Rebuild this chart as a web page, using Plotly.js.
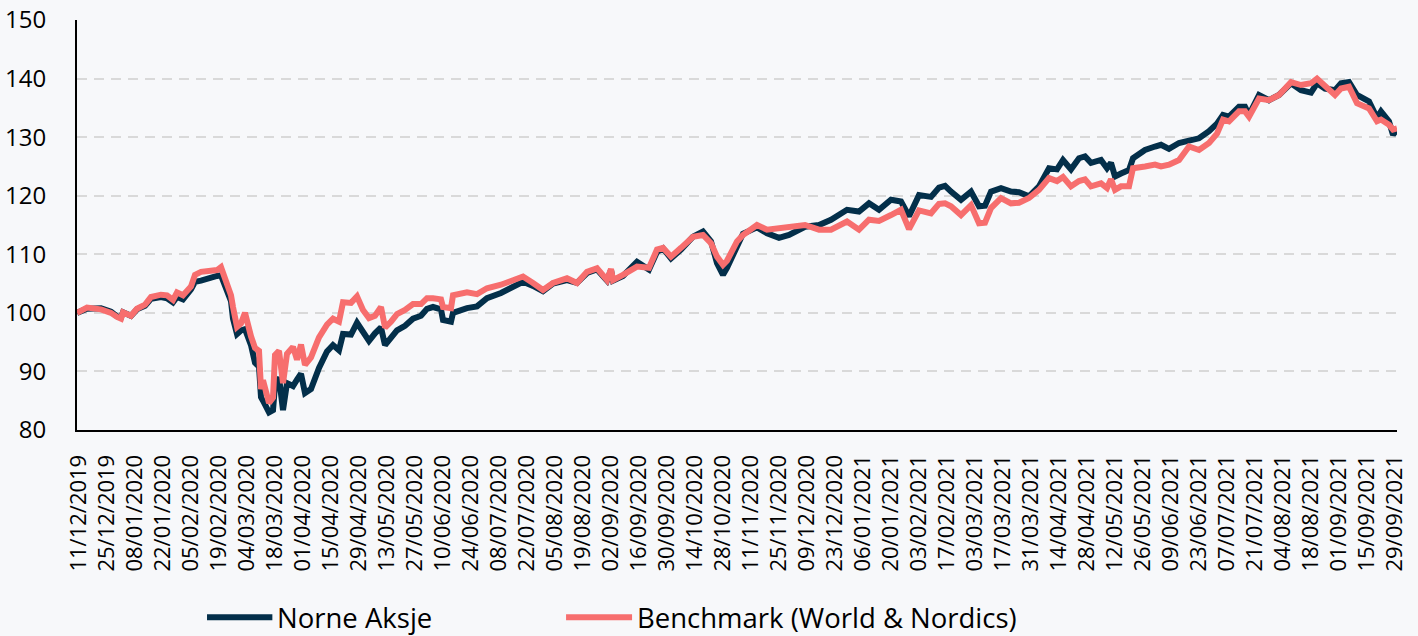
<!DOCTYPE html>
<html>
<head>
<meta charset="utf-8">
<script src="https://cdn.plot.ly/plotly-3.0.1.min.js"></script>
<style>
  html, body { margin: 0; padding: 0; background: #f7f8fa; }
  #chart { width: 1418px; height: 636px; }
</style>
</head>
<body>
<div id="chart"></div>
<script>
const dates = [
  '2019-12-10','2019-12-15','2019-12-22','2019-12-27','2019-12-30','2020-01-01','2020-01-02','2020-01-06','2020-01-09','2020-01-13',
  '2020-01-16','2020-01-21','2020-01-24','2020-01-27','2020-01-29','2020-02-01','2020-02-05','2020-02-07','2020-02-10','2020-02-15',
  '2020-02-18','2020-02-20','2020-02-25','2020-02-26','2020-02-28','2020-03-01','2020-03-03','2020-03-06','2020-03-08','2020-03-10',
  '2020-03-11','2020-03-12','2020-03-15','2020-03-17','2020-03-18','2020-03-20','2020-03-22','2020-03-24','2020-03-27','2020-03-29',
  '2020-03-31','2020-04-02','2020-04-05','2020-04-09','2020-04-13','2020-04-16','2020-04-19','2020-04-21','2020-04-25','2020-04-28',
  '2020-05-01','2020-05-04','2020-05-07','2020-05-10','2020-05-12','2020-05-15','2020-05-18','2020-05-22','2020-05-26','2020-05-30',
  '2020-06-02','2020-06-05','2020-06-09','2020-06-10','2020-06-14','2020-06-15','2020-06-22','2020-06-27','2020-07-02','2020-07-09',
  '2020-07-15','2020-07-20','2020-07-25','2020-07-30','2020-08-04','2020-08-11','2020-08-16','2020-08-21','2020-08-26','2020-08-31',
  '2020-09-02','2020-09-03','2020-09-08','2020-09-15','2020-09-21','2020-09-25','2020-09-28','2020-10-02','2020-10-07','2020-10-13',
  '2020-10-18','2020-10-22','2020-10-25','2020-10-28','2020-10-30','2020-11-04','2020-11-07','2020-11-14','2020-11-19','2020-11-25',
  '2020-11-30','2020-12-08','2020-12-15','2020-12-21','2020-12-29','2021-01-04','2021-01-09','2021-01-14','2021-01-20','2021-01-25',
  '2021-01-29','2021-02-03','2021-02-09','2021-02-13','2021-02-16','2021-02-19','2021-02-24','2021-03-01','2021-03-05','2021-03-08',
  '2021-03-11','2021-03-16','2021-03-21','2021-03-25','2021-03-30','2021-04-04','2021-04-09','2021-04-13','2021-04-16','2021-04-20',
  '2021-04-24','2021-04-27','2021-04-30','2021-05-05','2021-05-08','2021-05-10','2021-05-12','2021-05-15','2021-05-19','2021-05-21',
  '2021-05-27','2021-06-01','2021-06-04','2021-06-08','2021-06-13','2021-06-18','2021-06-23','2021-06-28','2021-07-02','2021-07-05',
  '2021-07-08','2021-07-13','2021-07-16','2021-07-18','2021-07-23','2021-07-28','2021-08-02','2021-08-08','2021-08-13','2021-08-18',
  '2021-08-21','2021-08-25','2021-08-30','2021-09-02','2021-09-06','2021-09-10','2021-09-16','2021-09-20','2021-09-22','2021-09-26',
  '2021-09-28','2021-09-30'
];

const norneAksje = [
  100.0,100.7,100.8,100.2,99.4,99.2,100.1,99.5,100.6,101.2,
  102.4,102.7,102.5,101.8,102.7,102.3,104.0,105.3,105.5,106.1,
  106.3,106.4,102.0,99.0,96.4,97.0,97.2,94.5,91.5,90.8,
  85.6,85.0,83.0,83.4,87.5,89.0,83.4,88.0,87.5,88.6,
  89.6,86.3,87.0,90.6,93.4,94.5,93.6,96.4,96.3,98.3,
  96.5,95.2,96.5,97.5,94.5,95.8,97.0,97.8,99.0,99.5,
  100.7,101.0,100.6,98.8,98.5,100.0,100.8,101.1,102.5,103.4,
  104.5,105.3,104.6,103.7,105.0,105.6,105.1,106.8,107.4,105.5,
  107.3,105.5,106.3,108.7,107.4,110.4,111.0,109.3,110.8,113.0,
  113.9,112.2,108.5,106.5,107.7,111.5,113.5,114.6,113.6,112.8,
  113.3,114.7,115.0,115.9,117.6,117.3,118.7,117.6,119.3,119.0,
  116.5,120.1,119.8,121.4,121.7,120.7,119.3,120.7,118.2,118.3,
  120.7,121.3,120.7,120.6,119.9,121.6,124.7,124.5,126.1,124.5,
  126.4,126.7,125.6,126.1,124.7,125.6,123.3,123.8,124.4,126.4,
  127.8,128.4,128.7,128.0,129.0,129.4,129.8,131.0,132.3,133.8,
  133.5,135.2,135.2,133.8,137.2,136.3,137.2,139.2,138.0,137.6,
  139.2,138.3,138.0,139.2,139.4,137.2,136.1,133.3,134.4,132.7,
  130.4,131.3
];

const benchmark = [
  100.0,100.9,100.6,100.0,99.3,99.0,100.1,99.5,100.7,101.4,
  102.7,103.1,103.0,102.2,103.5,103.0,104.5,106.5,107.0,107.2,
  107.3,107.8,103.0,101.0,97.6,98.2,100.0,96.0,94.0,93.5,
  87.0,88.5,84.6,85.5,92.8,93.5,88.0,93.0,94.2,92.0,
  94.6,91.1,92.4,95.8,98.0,99.0,98.5,101.8,101.7,102.8,
  100.5,99.1,99.5,101.0,97.5,98.5,99.8,100.5,101.5,101.5,
  102.5,102.5,102.3,101.0,100.8,103.0,103.5,103.2,104.2,104.8,
  105.7,106.2,105.1,103.9,105.1,105.9,105.1,107.0,107.6,105.6,
  107.5,105.6,106.5,107.9,107.7,110.8,111.1,109.6,111.1,113.0,
  113.3,111.9,109.6,108.2,108.9,112.2,113.3,115.0,114.2,114.5,
  114.5,115.0,114.2,114.2,115.6,114.2,115.9,115.7,116.7,117.6,
  114.3,117.5,117.0,118.6,118.7,118.2,116.7,118.4,115.3,115.4,
  117.9,119.6,118.7,118.8,119.6,121.0,123.0,122.5,123.2,121.6,
  122.5,122.8,121.6,122.1,121.3,122.8,121.0,121.6,121.6,124.7,
  125.0,125.3,125.0,125.3,126.1,128.4,127.8,129.0,130.6,133.0,
  132.7,134.4,134.4,133.5,136.6,136.3,137.2,139.4,138.9,139.2,
  140.0,138.6,137.2,138.3,138.6,135.8,134.9,132.7,133.0,132.1,
  131.3,131.5
];

const tickDates = [
  '2019-12-11','2019-12-25','2020-01-08','2020-01-22','2020-02-05','2020-02-19','2020-03-04','2020-03-18',
  '2020-04-01','2020-04-15','2020-04-29','2020-05-13','2020-05-27','2020-06-10','2020-06-24','2020-07-08',
  '2020-07-22','2020-08-05','2020-08-19','2020-09-02','2020-09-16','2020-09-30','2020-10-14','2020-10-28',
  '2020-11-11','2020-11-25','2020-12-09','2020-12-23','2021-01-06','2021-01-20','2021-02-03','2021-02-17',
  '2021-03-03','2021-03-17','2021-03-31','2021-04-14','2021-04-28','2021-05-12','2021-05-26','2021-06-09',
  '2021-06-23','2021-07-07','2021-07-21','2021-08-04','2021-08-18','2021-09-01','2021-09-15','2021-09-29'
];
const tickLabels = tickDates.map(d => { const p = d.split('-'); return p[2] + '/' + p[1] + '/' + p[0]; });

const seriesNames = ['Norne Aksje', 'Benchmark (World & Nordics)'];
const seriesColors = ['#032f4a', '#f76e6e'];

const FONT = 'Open Sans, sans-serif';

const traces = [
  { x: dates, y: norneAksje, name: seriesNames[0], type: 'scatter', mode: 'lines',
    line: { color: seriesColors[0], width: 6, shape: 'linear' }, showlegend: false },
  { x: dates, y: benchmark, name: seriesNames[1], type: 'scatter', mode: 'lines',
    line: { color: seriesColors[1], width: 6, shape: 'linear' }, showlegend: false }
];

// custom legend (long line samples like the reference)
const legendY = -0.457;
const legendItems = [
  { x0: 0.0985, x1: 0.148, tx: 0.150 },
  { x0: 0.3705, x1: 0.4205, tx: 0.4225 }
];
const shapes = legendItems.map((it, i) => ({
  type: 'line', xref: 'paper', yref: 'paper', x0: it.x0, x1: it.x1, y0: legendY, y1: legendY,
  line: { color: seriesColors[i], width: 6 }
}));
const annotations = legendItems.map((it, i) => ({
  xref: 'paper', yref: 'paper', x: it.tx, y: legendY, xanchor: 'left', yanchor: 'middle',
  text: seriesNames[i], showarrow: false, font: { family: FONT, size: 27.5, color: '#000' }
}));

const layout = {
  width: 1418, height: 636,
  margin: { l: 77, r: 21, t: 20, b: 206 },
  paper_bgcolor: '#f7f8fa', plot_bgcolor: '#f7f8fa',
  font: { family: FONT, color: '#000' },
  showlegend: false,
  xaxis: {
    type: 'date',
    range: ['2019-12-10', '2021-09-30'],
    tickvals: tickDates, ticktext: tickLabels,
    tickangle: -90,
    tickfont: { family: FONT, size: 22, color: '#000' },
    ticks: '', ticklabelstandoff: 14,
    showgrid: false, zeroline: false,
    showline: true, linecolor: '#000', linewidth: 2
  },
  yaxis: {
    range: [80, 150],
    tickvals: [80, 90, 100, 110, 120, 130, 140, 150],
    tickfont: { family: FONT, size: 24, color: '#000' },
    ticks: '', ticklabelstandoff: 24,
    showgrid: true, gridcolor: '#d9d9d9', gridwidth: 2, griddash: '10px,7px',
    zeroline: false,
    showline: true, linecolor: '#000', linewidth: 2
  },
  shapes: shapes,
  annotations: annotations
};

Plotly.newPlot('chart', traces, layout, { displayModeBar: false, staticPlot: true });
</script>
</body>
</html>
